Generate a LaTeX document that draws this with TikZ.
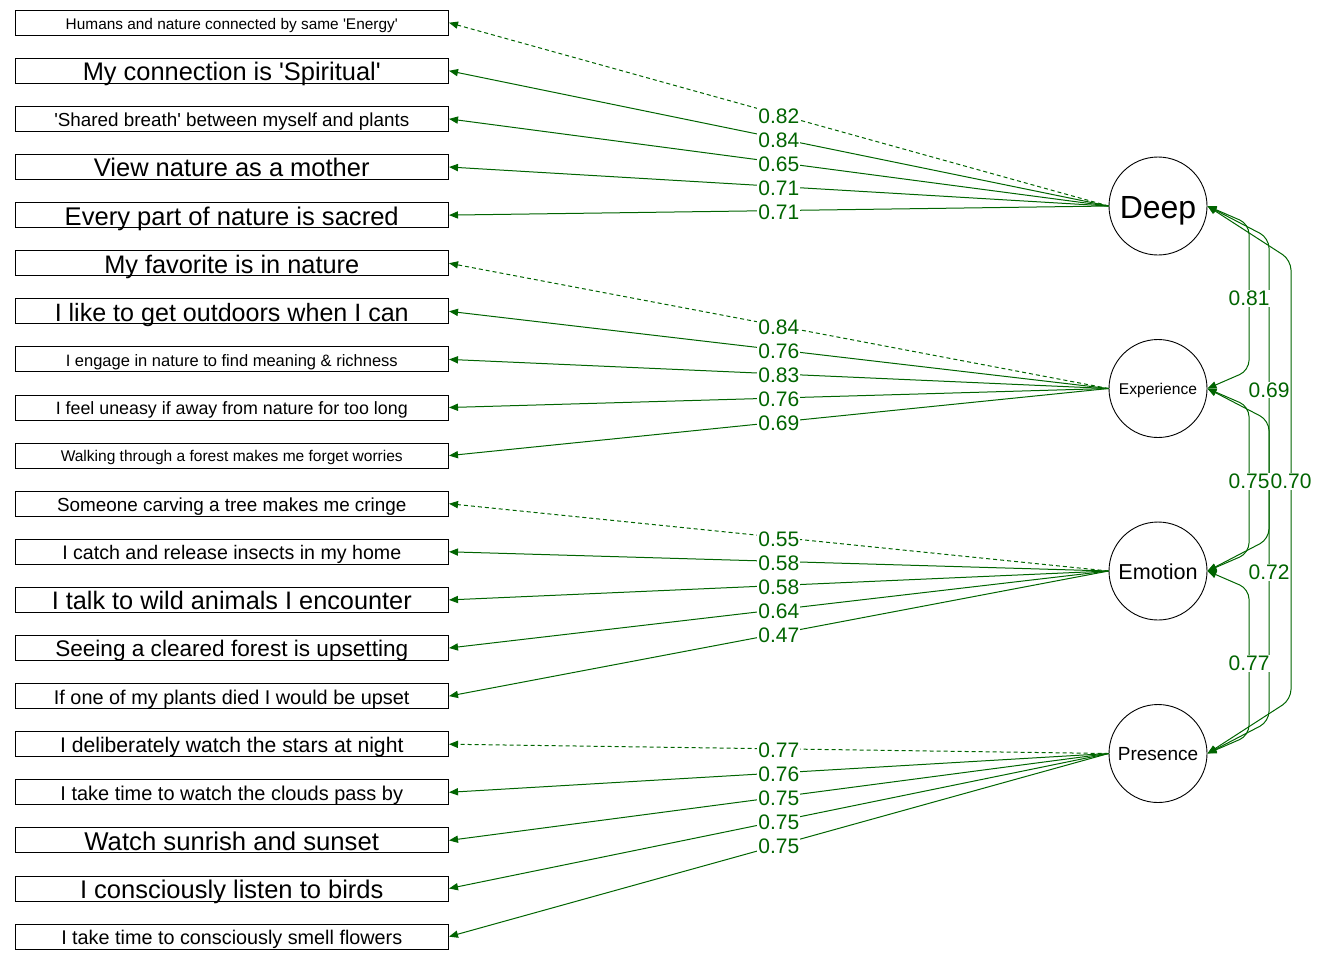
\documentclass[tikz,border=0pt]{standalone}
\usepackage{fontspec}
\newfontfamily\lib{Liberation Sans}
\usetikzlibrary{arrows.meta}
\definecolor{dkg}{RGB}{0,100,0}
\newcommand\fsz[1]{\lib\fontsize{#1}{#1}\selectfont}
\newbox\mybox
\newcommand\items{
 1/166/{Humans and nature connected by same 'Energy'},
 2/149/{My connection is 'Spiritual'},
 3/177.5/{'Shared breath' between myself and plants},
 4/137.8/{View nature as a mother},
 5/167/{Every part of nature is sacred},
 6/127.5/{My favorite is in nature},
 7/177/{I like to get outdoors when I can},
 8/166/{I engage in nature to find meaning \& richness},
 9/176/{I feel uneasy if away from nature for too long},
 10/171/{Walking through a forest makes me forget worries},
 11/174.7/{Someone carving a tree makes me cringe},
 12/169.5/{I catch and release insects in my home},
 13/180/{I talk to wild animals I encounter},
 14/176.5/{Seeing a cleared forest is upsetting},
 15/177.8/{If one of my plants died I would be upset},
 16/171.7/{I deliberately watch the stars at night},
 17/171.3/{I take time to watch the clouds pass by},
 18/147.3/{Watch sunrish and sunset},
 19/151.7/{I consciously listen to birds},
 20/170.5/{I take time to consciously smell flowers}}
\begin{document}
\lib
\foreach \i/\w/\txt in \items {%
  \setbox\mybox=\hbox{\fsz{10pt}\txt}%
  \expandafter\xdef\csname tw\i\endcsname{\the\wd\mybox}%
}%
\begin{tikzpicture}[x=0.5pt,y=-0.5pt,
  box/.style={draw=black, line width=0.5pt, rectangle, minimum width=216.75pt, minimum height=12.5pt, inner sep=0pt},
  lat/.style={draw=black, line width=0.45pt, circle, minimum size=49pt, inner sep=0pt, text depth=0pt},
  tip/.tip={Triangle[length=4.5pt,width=3.6pt]},
  load/.style={draw=dkg, line width=0.5pt, -tip},
  fixed/.style={load, dash pattern=on 2pt off 1.5pt},
  lbl/.style={fill=white, inner sep=0.5pt, text=dkg, font=\fsz{10.5pt}, yshift=-0.75pt},
  cov/.style={draw=dkg, line width=0.5pt, rounded corners=5pt, tip-tip}
]
\useasboundingbox (0,0) rectangle (1344,960);

% indicator boxes
\foreach \i/\w/\txt in \items {
  \edef\tw{\csname tw\i\endcsname}%
  \pgfmathsetmacro\fs{10*\w/\tw}%
  \pgfmathsetmacro\cy{22.7+(\i-1)*48.1}%
  \pgfmathsetmacro\hh{0.716*\fs+0.8}%
  \node[box, font=\fsz{\fs pt}, text height=\hh pt, text depth=0pt] (b\i) at (231.75,\cy) {\txt};
}

% latent variables
\node[lat, font=\fsz{16pt}, text height=12.3pt] (D) at (1158,206) {Deep};
\node[lat, font=\fsz{7.8pt}, text height=5.9pt] (E) at (1158,388.5) {Experience};
\node[lat, font=\fsz{10.8pt}, text height=8.1pt] (M) at (1158,571) {Emotion};
\node[lat, font=\fsz{9.5pt}, text height=7.2pt] (P) at (1158,753.5) {Presence};

% loadings
\draw[fixed] (D.west) -- (b1.east) node[midway, lbl] {0.82};
\draw[load] (D.west) -- (b2.east) node[midway, lbl] {0.84};
\draw[load] (D.west) -- (b3.east) node[midway, lbl] {0.65};
\draw[load] (D.west) -- (b4.east) node[midway, lbl] {0.71};
\draw[load] (D.west) -- (b5.east) node[midway, lbl] {0.71};

\draw[fixed] (E.west) -- (b6.east) node[midway, lbl] {0.84};
\draw[load] (E.west) -- (b7.east) node[midway, lbl] {0.76};
\draw[load] (E.west) -- (b8.east) node[midway, lbl] {0.83};
\draw[load] (E.west) -- (b9.east) node[midway, lbl] {0.76};
\draw[load] (E.west) -- (b10.east) node[midway, lbl] {0.69};

\draw[fixed] (M.west) -- (b11.east) node[midway, lbl] {0.55};
\draw[load] (M.west) -- (b12.east) node[midway, lbl] {0.58};
\draw[load] (M.west) -- (b13.east) node[midway, lbl] {0.58};
\draw[load] (M.west) -- (b14.east) node[midway, lbl] {0.64};
\draw[load] (M.west) -- (b15.east) node[midway, lbl] {0.47};

\draw[fixed] (P.west) -- (b16.east) node[midway, lbl] {0.77};
\draw[load] (P.west) -- (b17.east) node[midway, lbl] {0.76};
\draw[load] (P.west) -- (b18.east) node[midway, lbl] {0.75};
\draw[load] (P.west) -- (b19.east) node[midway, lbl] {0.75};
\draw[load] (P.west) -- (b20.east) node[midway, lbl] {0.75};

% covariances
\draw[cov] (D.east) -- (1249,224) -- node[coordinate] (c1) {} (1249,370.5) -- (E.east);
\draw[cov] (D.east) -- (1269,238) -- node[coordinate] (c2) {} (1269,539) -- (M.east);
\draw[cov] (E.east) -- (1249,406.5) -- node[coordinate] (c3) {} (1249,553) -- (M.east);
\draw[cov] (D.east) -- (1291,260) -- node[coordinate] (c4) {} (1291,699.5) -- (P.east);
\draw[cov] (E.east) -- (1269,420.5) -- node[coordinate] (c5) {} (1269,721.5) -- (P.east);
\draw[cov] (M.east) -- (1249,589) -- node[coordinate] (c6) {} (1249,735.5) -- (P.east);

\node[lbl] (l1) at (c1) {0.81};
\node[lbl] (l2) at (c2) {0.69};
\node[lbl] (l3) at (c3) {0.75};
\node[lbl] (l4) at (c4) {0.70};
\node[lbl] (l5) at (c5) {0.72};
\node[lbl] (l6) at (c6) {0.77};
\end{tikzpicture}
\end{document}
